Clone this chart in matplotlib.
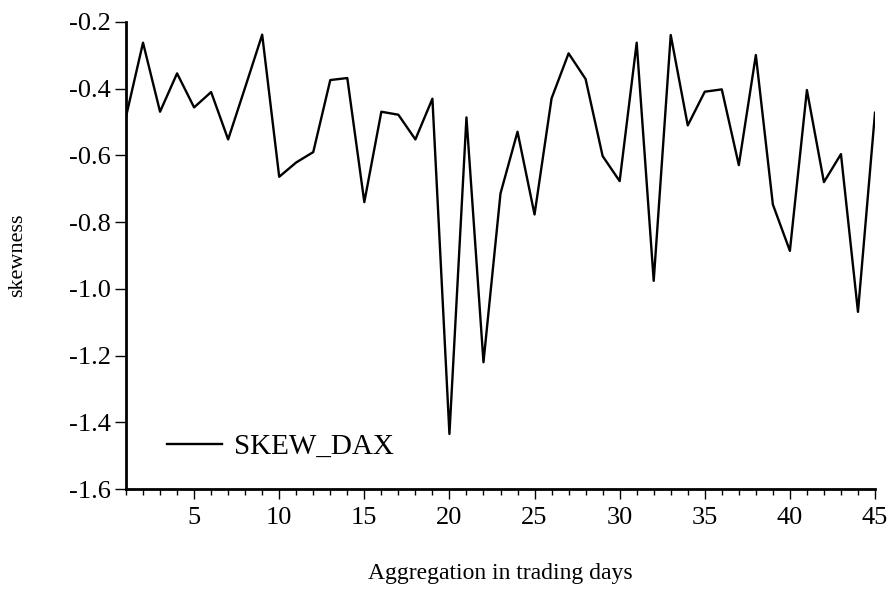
import matplotlib
matplotlib.use("Agg")
import matplotlib.pyplot as plt
from matplotlib.ticker import FixedLocator, MultipleLocator

# Дані: скошеність DAX за рівнем агрегації (дні торгів)
days = list(range(1, 46))
skew_dax = [-0.484, -0.262, -0.469, -0.354, -0.456, -0.410, -0.552, -0.396, -0.238, -0.664,
            -0.621, -0.590, -0.374, -0.368, -0.740, -0.469, -0.478, -0.552, -0.430, -1.435,
            -0.486, -1.220, -0.714, -0.529, -0.777, -0.429, -0.294, -0.371, -0.602, -0.677,
            -0.262, -0.976, -0.239, -0.510, -0.409, -0.402, -0.629, -0.299, -0.747, -0.886,
            -0.404, -0.680, -0.596, -1.069, -0.472]
x_major = [5, 10, 15, 20, 25, 30, 35, 40, 45]
y_ticks = [-1.6, -1.4, -1.2, -1.0, -0.8, -0.6, -0.4, -0.2]

plt.rcParams['font.family'] = ['Liberation Serif', 'DejaVu Serif']

fig = plt.figure(figsize=(8.93, 5.92), dpi=100)
ax = fig.add_axes([126 / 893, 1 - 489 / 592, 749 / 893, 467 / 592])

ax.plot(days, skew_dax, color='black', lw=1.7, label='SKEW_DAX')

ax.set_xlim(1, 45)
ax.set_ylim(-1.6, -0.2)
ax.xaxis.set_major_locator(FixedLocator(x_major))
ax.xaxis.set_minor_locator(MultipleLocator(1))
ax.set_yticks(y_ticks)
ax.set_yticklabels([f'{v:.1f}' for v in y_ticks])

for s in ['top', 'right']:
    ax.spines[s].set_visible(False)
for s in ['left', 'bottom']:
    ax.spines[s].set_linewidth(2)

ax.tick_params(axis='x', which='major', length=7, width=1, pad=6, labelsize=19)
ax.tick_params(axis='x', which='minor', length=4, width=1)
ax.tick_params(axis='y', which='major', length=8, width=1, pad=3, labelsize=19)

ax.set_xlabel('Aggregation in trading days', fontsize=17, va='center')
ax.xaxis.set_label_coords(0.5, (489 - 573) / 467)
ax.set_ylabel('skewness', fontsize=16, va='center')
ax.yaxis.set_label_coords((18 - 126) / 749, 0.5)

ax.legend(frameon=False, loc='center left', fontsize=21,
          bbox_to_anchor=((167 - 126) / 749, (489 - 447) / 467),
          borderpad=0, borderaxespad=0, handlelength=1.9, handletextpad=0.4)

fig.savefig('out.png', dpi=100)
